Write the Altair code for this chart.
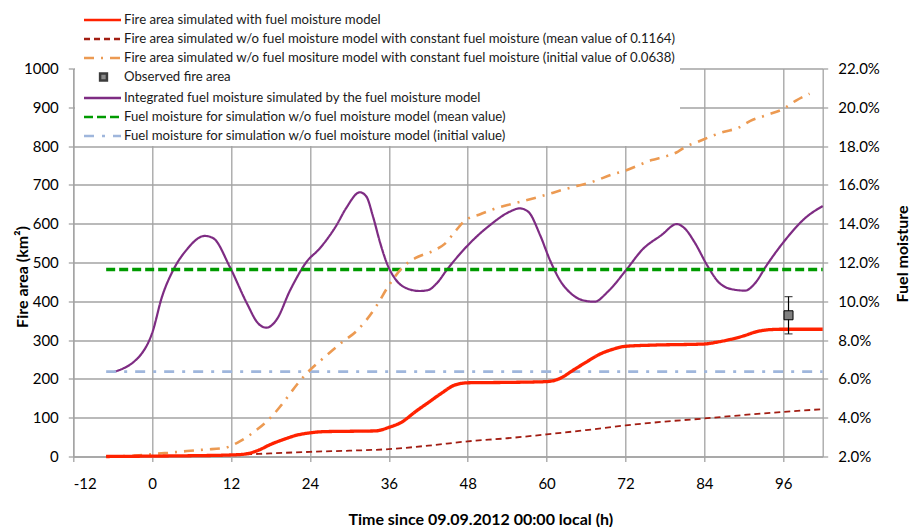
import json
import altair as alt
import pandas as pd

# ---------------- data ----------------
fa_names = [
    "Fire area simulated with fuel moisture model",
    "Fire area simulated w/o fuel moisture model with constant fuel moisture (mean value of 0.1164)",
    "Fire area simulated w/o fuel mositure model with constant fuel moisture (initial value of 0.0638)",
]
obs_name = "Observed fire area"
fm_names = [
    "Integrated fuel moisture simulated by the fuel moisture model",
    "Fuel moisture for simulation w/o fuel moisture model (mean value)",
    "Fuel moisture for simulation w/o fuel moisture model (initial value)",
]

# Fire area simulated with fuel moisture model (km2)
red_h = [-7, 0, 6, 12, 14, 16, 18, 20, 22, 24, 26, 30, 34, 36, 38, 40, 42, 44, 46, 48,
         54, 60, 62, 64, 66, 68, 70, 72, 76, 84, 86, 88, 90, 92, 94, 96, 102]
red_fa = [0, 1, 2, 4, 6, 15, 31, 44, 55, 61, 64, 65, 66, 75, 89, 115, 139, 163, 184, 190,
          191, 193, 201, 222, 243, 263, 276, 284, 287, 290, 295, 302, 311, 322, 327, 328, 328]

# constant fuel moisture, mean value
dred_h = [-7, 0, 6, 12, 18, 24, 30, 36, 42, 48, 54, 60, 66, 72, 78, 84, 90, 96, 102]
dred_fa = [0, 1, 2, 4, 8, 12, 15, 19, 28, 39, 47, 57, 68, 80, 90, 98, 107, 115, 122]

# constant fuel moisture, initial value
orange_h = [-7, -2, 0, 4, 8, 11, 13, 16, 18, 20, 22, 24, 26, 29, 31, 32.5, 34, 36, 38, 40,
            43, 44.5, 46, 47.5, 50, 52, 55, 59, 63, 67, 70, 72, 76, 78, 80, 81, 83, 85,
            87, 89, 91, 93.5, 96, 98, 100]
orange_fa = [0, 3, 6, 12, 18, 22, 36, 70, 100, 140, 185, 223, 253, 296, 322, 350, 385, 441, 486, 511,
             532, 548, 578, 607, 625, 638, 652, 670, 690, 708, 727, 737, 764, 773, 786, 797, 811, 825,
             837, 846, 865, 880, 896, 918, 935]

# integrated fuel moisture (fraction)
purple_h = [-5.7, -1.4, 0, 1.5, 3.2, 5.2, 8, 9.3, 11.8, 14.4, 16.1, 17.4, 18.9, 21, 23.5, 25.5,
            28, 29.5, 31.6, 32.6, 33.6, 34.7, 35.7, 36.9, 38.7, 40.7, 42, 43.3, 44.8, 47.8, 51.4,
            54.4, 55.9, 57.2, 59, 60.5, 62, 64, 66.3, 67.3, 69.3, 72.3, 74.5, 77.5, 79.8, 81,
            82.6, 84.4, 86.1, 88.2, 90.2, 91.7, 93.5, 96.3, 99.3, 102]
purple_fm = [0.0637, 0.0740, 0.0837, 0.1024, 0.1161, 0.1264, 0.1337, 0.1325, 0.1178, 0.0990,
             0.0887, 0.0864, 0.0904, 0.1058, 0.1204, 0.1273, 0.1390, 0.1480, 0.1562, 0.1539,
             0.1436, 0.1299, 0.1196, 0.1119, 0.1067, 0.1053, 0.1058, 0.1093, 0.1161, 0.1281,
             0.1393, 0.1462, 0.1479, 0.1462, 0.1342, 0.1213, 0.1110, 0.1032, 0.1000, 0.0998,
             0.1049, 0.1170, 0.1264, 0.1342, 0.1398, 0.1376, 0.1299, 0.1187, 0.1101, 0.1062,
             0.1055, 0.1093, 0.1187, 0.1316, 0.1428, 0.1491]

const_h = [-7, 102]
fm_mean = 0.1164
fm_init = 0.0638

obs_h = [96.8]
obs_fa = [364]
obs_lo = [316]
obs_hi = [412]

x_ticks = [-12, 0, 12, 24, 36, 48, 60, 72, 84, 96]
y_ticks = [0, 100, 200, 300, 400, 500, 600, 700, 800, 900, 1000]
fm_ticks = [0.02, 0.04, 0.06, 0.08, 0.10, 0.12, 0.14, 0.16, 0.18, 0.20, 0.22]

# ---------------- styles ----------------
FONT = "Lato"
GRID = "#a3a3a3"
all_names = fa_names + [obs_name] + fm_names
all_colors = ["#ff2200", "#a21d12", "#ec9a52", "#3c3c3c", "#7e2c83", "#009a00", "#9fb6dc"]
all_dashes = [[1, 0], [6, 4], [10, 7, 2, 7], [1, 0], [1, 0], [9, 4], [10, 8, 3, 8]]
fa_widths = [3.3, 1.8, 2.6]
fm_widths = [2.2, 3.5, 2.8]

W, H = 749.4, 388.0

x_enc = alt.X("h:Q", scale=alt.Scale(domain=[-12, 102], nice=False, zero=False),
              axis=alt.Axis(values=x_ticks, grid=True, title="Time since 09.09.2012 00:00 local (h)",
                            labelExpr="'' + datum.value", labelPadding=15,
                            titleX=407, titleY=62.5, titleBaseline="middle"))
left_axis = alt.Axis(values=y_ticks, grid=True, orient="left", title="Fire area (km²)",
                     format="d", titleAngle=270, titleX=-51, titleY=208, titleBaseline="middle",
                     labelPadding=10)
left_scale = alt.Scale(domain=[0, 1000], nice=False)
y_left = alt.Y("fa:Q", scale=left_scale, axis=left_axis)
y_right = alt.Y("fm:Q", scale=alt.Scale(domain=[0.02, 0.22], nice=False, zero=False),
                axis=alt.Axis(values=fm_ticks, grid=False, orient="right", format=".1%",
                              title="Fuel moisture", titleAngle=270, titleX=80, titleY=185,
                              titleBaseline="middle", labelPadding=10))

# one legend for all seven entries; the observed entry gets a filled square symbol
LINE_PATH = "M-1,0H3"
SQUARE_PATH = "M0.74,-0.37H1.48V0.37H0.74Z"
is_obs = "datum.value === %s" % json.dumps(obs_name)
legend = alt.Legend(
    title=None, orient="none", legendX=1.7, legendY=-62.5, direction="vertical",
    symbolType={"expr": "%s ? '%s' : '%s'" % (is_obs, SQUARE_PATH, LINE_PATH)},
    symbolFillColor={"expr": "%s ? '#8a8a8a' : 'transparent'" % is_obs},
    symbolSize=342, symbolStrokeWidth=2.5, symbolOffset=4.25,
    labelOffset=20.25, labelFont=FONT, labelFontSize=13.2, labelColor="#1a1a1a",
    labelLimit=1000, fillColor="white", padding=3.5, rowPadding=2.0,
)
color = alt.Color("s:N", scale=alt.Scale(domain=all_names, range=all_colors), legend=legend)
dash = alt.StrokeDash("s:N", scale=alt.Scale(domain=all_names, range=all_dashes), legend=legend)

# ---------------- fuel moisture (right axis) ----------------
fm_df = pd.concat([
    pd.DataFrame({"h": purple_h, "fm": purple_fm, "s": fm_names[0]}),
    pd.DataFrame({"h": const_h, "fm": [fm_mean] * 2, "s": fm_names[1]}),
    pd.DataFrame({"h": const_h, "fm": [fm_init] * 2, "s": fm_names[2]}),
])
fm_layers = []
for i, nm in enumerate(fm_names):
    fm_layers.append(
        alt.Chart(fm_df).transform_filter(alt.datum.s == nm)
        .mark_line(interpolate="monotone", strokeWidth=fm_widths[i], strokeCap="butt")
        .encode(x=x_enc, y=y_right, color=color, strokeDash=dash)
    )
right = alt.layer(*fm_layers)

# ---------------- fire area (left axis) ----------------
fa_df = pd.concat([
    pd.DataFrame({"h": red_h, "fa": red_fa, "s": fa_names[0]}),
    pd.DataFrame({"h": dred_h, "fa": dred_fa, "s": fa_names[1]}),
    pd.DataFrame({"h": orange_h, "fa": orange_fa, "s": fa_names[2]}),
])
fa_layers = []
for i in [2, 1, 0]:
    nm = fa_names[i]
    fa_layers.append(
        alt.Chart(fa_df).transform_filter(alt.datum.s == nm)
        .mark_line(interpolate="monotone", strokeWidth=fa_widths[i], strokeCap="butt")
        .encode(x=x_enc, y=y_left, color=color, strokeDash=dash)
    )

obs_df = pd.DataFrame({"h": obs_h, "fa": obs_fa, "fa_hi": obs_hi, "fa_lo": obs_lo})
cap_df = pd.DataFrame({"h": obs_h * 2, "fa": obs_lo + obs_hi})

err = alt.Chart(obs_df).mark_rule(color="black", strokeWidth=1.2).encode(
    x=x_enc, y=alt.Y("fa_lo:Q", scale=left_scale, axis=left_axis), y2="fa_hi:Q")
caps = alt.Chart(cap_df).mark_tick(orient="horizontal", size=8, thickness=1.2, color="black").encode(
    x=x_enc, y=y_left)
pt = alt.Chart(obs_df).mark_point(filled=True, size=81, shape="square", fill="#808080",
                                  stroke="black", strokeWidth=1, opacity=1).encode(
    x=x_enc, y=y_left)

left = alt.layer(*fa_layers, err, caps, pt)

chart = (
    alt.layer(right, left)
    .resolve_scale(y="independent")
    .properties(width=W, height=H, autosize=alt.AutoSizeParams(type="none"),
                padding={"left": 73.3, "top": 68.5, "right": 87.3, "bottom": 70.5},
                background="white")
    .configure_view(strokeWidth=0)
    .configure_axis(gridColor=GRID, gridWidth=1.3, domainColor=GRID, domainWidth=1.3,
                    tickColor=GRID, tickWidth=1.3, tickSize=5,
                    labelFont=FONT, labelFontSize=15, labelColor="black",
                    titleFont=FONT, titleFontSize=16, titleFontWeight="bold", titleColor="black")
)

chart.save("out.html", embed_options={"renderer": "svg", "actions": False})
